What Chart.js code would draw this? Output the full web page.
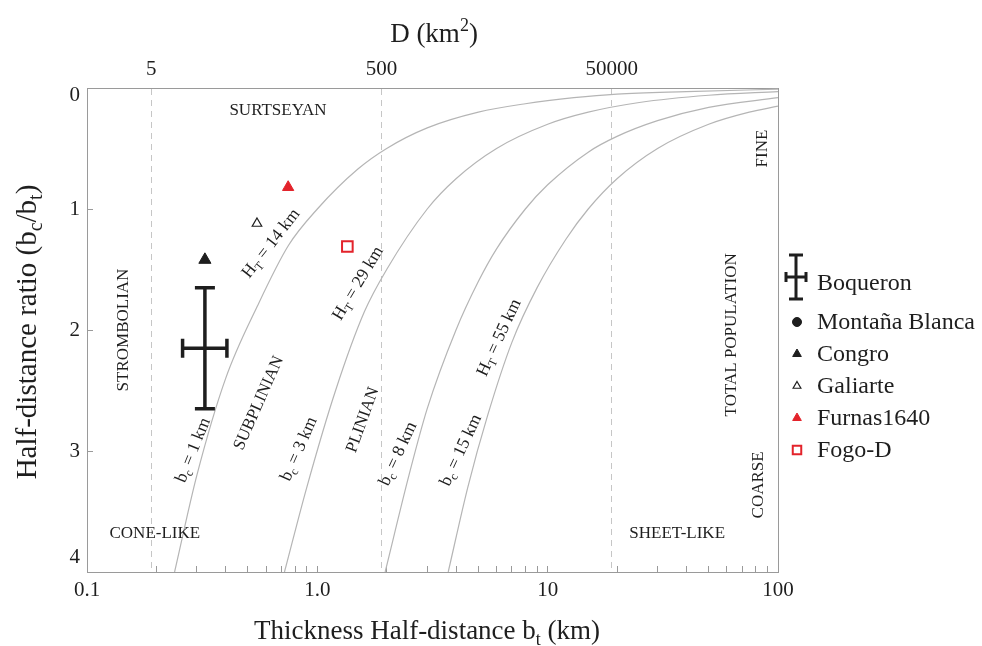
<!DOCTYPE html>
<html>
<head>
<meta charset="utf-8">
<title>Half-distance ratio vs thickness half-distance</title>
<script src="https://cdn.jsdelivr.net/npm/chart.js"></script>
<style>
  html, body { margin: 0; padding: 0; background: #fff; }
  #wrap { width: 982px; height: 646px; position: relative; }
</style>
</head>
<body>
<div id="wrap"><canvas id="grafico"></canvas></div>
<script>
// --- datos ---
// curvas de bc constante (bt en km, razon bc/bt)
const curve1Bt = [0.24, 0.3, 0.4, 0.55, 0.75, 1, 1.5, 2, 3, 5, 8, 13, 20, 40, 100];
const curve1Ratio = [4.0, 3.2, 2.4, 1.8, 1.3, 1.0, 0.67, 0.5, 0.33, 0.2, 0.13, 0.08, 0.05, 0.03, 0.01];
const curve2Bt = [0.72, 0.9, 1.2, 1.6, 2, 3, 4, 6, 10, 15, 25, 50, 100];
const curve2Ratio = [4.0, 3.3, 2.5, 1.85, 1.5, 1.0, 0.75, 0.5, 0.3, 0.2, 0.12, 0.06, 0.03];
const curve3Bt = [1.97, 2.5, 3, 4, 5, 6, 8, 10, 15, 20, 30, 50, 100];
const curve3Ratio = [4.0, 3.2, 2.65, 2.0, 1.6, 1.33, 1.0, 0.8, 0.53, 0.4, 0.27, 0.16, 0.08];
const curve4Bt = [3.7, 4.5, 5.5, 7, 9, 12, 15, 20, 30, 50, 75, 100];
const curve4Ratio = [4.0, 3.3, 2.7, 2.1, 1.65, 1.25, 1.0, 0.75, 0.5, 0.3, 0.2, 0.15];

// depositos
const depositNames = ['Boqueron', 'Montaña Blanca', 'Congro', 'Galiarte', 'Furnas1640', 'Fogo-D'];
const depositBt = [0.325, null, 0.325, 0.547, 0.747, 1.35];
const depositRatio = [2.15, null, 1.42, 1.12, 0.82, 1.31];
const boqueronBtRange = [0.26, 0.405];
const boqueronRatioRange = [1.65, 2.65];

// ejes
const bottomTickValues = [0.1, 1, 10, 100];
const bottomTickText = ['0.1', '1.0', '10', '100'];
const topTicksD = [5, 500, 50000];
const dLink = { bt: 0.19, D: 5 };   // D crece con bt^2
const yTickValues = [0, 1, 2, 3, 4];

const serif = '"Liberation Serif", "Times New Roman", serif';
const ink = '#1e1e1e';
const axisGrey = '#9a9a9a';
const red = '#e3232b';

Chart.defaults.font.family = serif;

// estilos de marcadores (grafico y leyenda)
const depositStyle = [
  { shape: 'errorbar' },
  { shape: 'circle', r: 7, fill: ink, stroke: ink, lw: 1, legendR: 4.5 },
  { shape: 'triangle', r: 7, fill: ink, stroke: ink, lw: 1, legendR: 5 },
  { shape: 'triangle', r: 5.5, fill: '#fff', stroke: ink, lw: 1.2, legendR: 4.5 },
  { shape: 'triangle', r: 6.5, fill: red, stroke: red, lw: 1, legendR: 5 },
  { shape: 'rect', r: 7.5, fill: '#fff', stroke: red, lw: 2, legendR: 6 }
];

function pts(xs, ys) {
  return xs.map((x, i) => ({ x: x, y: ys[i] }));
}

const datasets = [];
[[curve1Bt, curve1Ratio], [curve2Bt, curve2Ratio], [curve3Bt, curve3Ratio], [curve4Bt, curve4Ratio]].forEach((c, i) => {
  datasets.push({
    label: 'curve' + (i + 1),
    data: pts(c[0], c[1]),
    showLine: true,
    borderColor: '#b5b5b5',
    borderWidth: 1.2,
    pointRadius: 0,
    cubicInterpolationMode: 'monotone',
    fill: false
  });
});
depositNames.forEach((name, i) => {
  const st = depositStyle[i];
  const data = depositBt[i] === null ? [] : [{ x: depositBt[i], y: depositRatio[i] }];
  datasets.push({
    label: name,
    data: data,
    isDeposit: true,
    styleIdx: i,
    showLine: false,
    pointStyle: st.shape === 'errorbar' ? 'circle' : st.shape,
    pointRadius: st.shape === 'errorbar' ? 0 : st.r,
    backgroundColor: st.fill,
    borderColor: st.stroke,
    borderWidth: st.lw
  });
});

// rotulos dentro del grafico (posicion en coordenadas de datos)
const notes = [
  { text: 'SURTSEYAN', bt: 0.675, ratio: 0.18, angle: 0, size: 17 },
  { text: 'STROMBOLIAN', bt: 0.143, ratio: 2.0, angle: -90, size: 17 },
  { text: 'CONE-LIKE', bt: 0.197, ratio: 3.67, angle: 0, size: 17 },
  { text: 'SHEET-LIKE', bt: 36.5, ratio: 3.67, angle: 0, size: 17 },
  { text: 'FINE', bt: 85, ratio: 0.5, angle: -90, size: 17 },
  { text: 'TOTAL POPULATION', bt: 62, ratio: 2.04, angle: -90, size: 17 },
  { text: 'COARSE', bt: 81, ratio: 3.28, angle: -90, size: 17 },
  { text: 'SUBPLINIAN', bt: 0.552, ratio: 2.6, angle: -66, size: 17 },
  { text: 'PLINIAN', bt: 1.56, ratio: 2.74, angle: -70, size: 17 },
  { text: 'H_T = 14 km', bt: 0.625, ratio: 1.28, angle: -52, size: 17.5 },
  { text: 'H_T = 29 km', bt: 1.49, ratio: 1.61, angle: -59, size: 17.5 },
  { text: 'H_T = 55 km', bt: 6.1, ratio: 2.06, angle: -65, size: 17.5 },
  { text: 'b_c = 1 km', bt: 0.286, ratio: 2.99, angle: -68, size: 17.5 },
  { text: 'b_c = 3 km', bt: 0.824, ratio: 2.98, angle: -66, size: 17.5 },
  { text: 'b_c = 8 km', bt: 2.22, ratio: 3.02, angle: -65, size: 17.5 },
  { text: 'b_c = 15 km', bt: 4.16, ratio: 2.99, angle: -65, size: 17.5 }
];

// "_x" subindice, "^x" superindice
function richParts(str) {
  const parts = [];
  let buf = '';
  for (let i = 0; i < str.length; i++) {
    const ch = str[i];
    if ((ch === '_' || ch === '^') && i + 1 < str.length) {
      if (buf) { parts.push({ t: buf }); buf = ''; }
      parts.push({ t: str[i + 1], sub: ch === '_', sup: ch === '^' });
      i++;
    } else {
      buf += ch;
    }
  }
  if (buf) parts.push({ t: buf });
  return parts;
}

function drawRich(ctx, str, x, y, angle, size) {
  const parts = richParts(str);
  const big = size + 'px ' + serif;
  const small = Math.round(size * 0.68) + 'px ' + serif;
  let total = 0;
  parts.forEach(p => {
    ctx.font = (p.sub || p.sup) ? small : big;
    p.w = ctx.measureText(p.t).width;
    total += p.w;
  });
  ctx.save();
  ctx.translate(x, y);
  ctx.rotate(angle * Math.PI / 180);
  ctx.fillStyle = ink;
  ctx.textAlign = 'left';
  ctx.textBaseline = 'alphabetic';
  let cx = -total / 2;
  const base = size * 0.33;
  parts.forEach(p => {
    ctx.font = (p.sub || p.sup) ? small : big;
    let dy = 0;
    if (p.sub) dy = size * 0.22;
    if (p.sup) dy = -size * 0.4;
    ctx.fillText(p.t, cx, base + dy);
    cx += p.w;
  });
  ctx.restore();
}

function drawMarker(ctx, st, x, y, r) {
  ctx.save();
  ctx.beginPath();
  if (st.shape === 'circle') {
    ctx.arc(x, y, r, 0, Math.PI * 2);
  } else if (st.shape === 'triangle') {
    ctx.moveTo(x, y - r);
    ctx.lineTo(x + 0.866 * r, y + 0.5 * r);
    ctx.lineTo(x - 0.866 * r, y + 0.5 * r);
    ctx.closePath();
  } else if (st.shape === 'rect') {
    const h = Math.SQRT1_2 * r;
    ctx.rect(x - h, y - h, 2 * h, 2 * h);
  }
  ctx.fillStyle = st.fill;
  ctx.fill();
  ctx.lineWidth = st.lw;
  ctx.strokeStyle = st.stroke;
  ctx.stroke();
  ctx.restore();
}

function drawCross(ctx, cx, cy, top, bottom, left, right, capV, capH, lw) {
  ctx.save();
  ctx.strokeStyle = ink;
  ctx.lineWidth = lw;
  ctx.lineCap = 'butt';
  ctx.beginPath();
  ctx.moveTo(cx, top); ctx.lineTo(cx, bottom);
  ctx.moveTo(cx - capV, top); ctx.lineTo(cx + capV, top);
  ctx.moveTo(cx - capV, bottom); ctx.lineTo(cx + capV, bottom);
  ctx.moveTo(left, cy); ctx.lineTo(right, cy);
  ctx.moveTo(left, cy - capH); ctx.lineTo(left, cy + capH);
  ctx.moveTo(right, cy - capH); ctx.lineTo(right, cy + capH);
  ctx.stroke();
  ctx.restore();
}

const extras = {
  id: 'extras',
  afterDatasetsDraw(chart) {
    const ctx = chart.ctx;
    const xs = chart.scales.x, ys = chart.scales.y;
    // barras de error de Boqueron
    const i = depositNames.indexOf('Boqueron');
    drawCross(ctx,
      xs.getPixelForValue(depositBt[i]), ys.getPixelForValue(depositRatio[i]),
      ys.getPixelForValue(boqueronRatioRange[0]), ys.getPixelForValue(boqueronRatioRange[1]),
      xs.getPixelForValue(boqueronBtRange[0]), xs.getPixelForValue(boqueronBtRange[1]),
      10, 9.5, 3.5);
  },
  afterDraw(chart) {
    const ctx = chart.ctx;
    const a = chart.chartArea;
    const xs = chart.scales.x, ys = chart.scales.y;

    // borde derecho
    ctx.save();
    ctx.strokeStyle = axisGrey;
    ctx.lineWidth = 1;
    ctx.beginPath();
    ctx.moveTo(a.right + 0.5, a.top);
    ctx.lineTo(a.right + 0.5, a.bottom);
    ctx.stroke();
    ctx.restore();

    // etiquetas del eje y: las de los extremos quedan dentro del marco
    ctx.save();
    ctx.font = '21px ' + serif;
    ctx.fillStyle = ink;
    ctx.textAlign = 'right';
    ctx.textBaseline = 'middle';
    yTickValues.forEach(v => {
      let py = ys.getPixelForValue(v);
      py = Math.min(Math.max(py, a.top + 7), a.bottom - 15);
      ctx.fillText(String(v), a.left - 7, py);
    });
    ctx.restore();

    // rotulos
    notes.forEach(n => {
      drawRich(ctx, n.text, xs.getPixelForValue(n.bt), ys.getPixelForValue(n.ratio), n.angle, n.size);
    });

    // titulos de ejes
    drawRich(ctx, 'Thickness Half-distance b_t (km)', 427, 630, 0, 27);
    drawRich(ctx, 'Half-distance ratio (b_c/b_t)', 26, 332, -90, 29);
    drawRich(ctx, 'D (km^2)', 434, 33, 0, 27);

    // leyenda
    const mx = a.right + 19;
    const tx = a.right + 39;
    let ly = 322;
    chart.data.datasets.forEach(ds => {
      if (!ds.isDeposit) return;
      const st = depositStyle[ds.styleIdx];
      let rowY;
      if (st.shape === 'errorbar') {
        rowY = 283;
        drawCross(ctx, mx - 1, 277, 255, 299, mx - 11, mx + 9, 7, 5, 3);
      } else {
        rowY = ly;
        drawMarker(ctx, st, mx, rowY, st.legendR);
        ly += 32;
      }
      ctx.save();
      ctx.font = '24px ' + serif;
      ctx.fillStyle = ink;
      ctx.textAlign = 'left';
      ctx.textBaseline = 'middle';
      ctx.fillText(ds.label, tx, rowY + 1);
      ctx.restore();
    });
  }
};

const tickFont = { family: serif, size: 21 };
const bottomTicks = [];
[0.1, 1, 10].forEach(dec => {
  for (let k = 1; k < 10; k++) bottomTicks.push(+(dec * k).toPrecision(3));
});
bottomTicks.push(100);

const dMin = dLink.D * Math.pow(0.1 / dLink.bt, 2);
const dMax = dLink.D * Math.pow(100 / dLink.bt, 2);

new Chart(document.getElementById('grafico'), {
  type: 'scatter',
  data: { datasets: datasets },
  options: {
    responsive: true,
    maintainAspectRatio: false,
    animation: false,
    layout: { padding: { left: 0, right: 204, top: 0, bottom: 0 } },
    plugins: { legend: { display: false }, tooltip: { enabled: false } },
    scales: {
      x: {
        type: 'logarithmic',
        position: 'bottom',
        min: 0.1,
        max: 100,
        afterFit(s) { s.height = 74; },
        afterBuildTicks(s) { s.ticks = bottomTicks.map(v => ({ value: v })); },
        ticks: {
          autoSkip: false,
          maxRotation: 0,
          padding: 12,
          color: ink,
          font: tickFont,
          callback(v) {
            const k = bottomTickValues.findIndex(t => Math.abs(t - v) / t < 1e-6);
            return k >= 0 ? bottomTickText[k] : '';
          }
        },
        grid: { drawOnChartArea: false, tickLength: -6, color: axisGrey },
        border: { color: axisGrey }
      },
      x2: {
        type: 'logarithmic',
        axis: 'x',
        position: 'top',
        min: dMin,
        max: dMax,
        afterFit(s) { s.height = 88; },
        afterBuildTicks(s) { s.ticks = topTicksD.map(v => ({ value: v })); },
        ticks: {
          autoSkip: false,
          maxRotation: 0,
          padding: 6,
          color: ink,
          font: tickFont,
          callback(v) { return String(v); }
        },
        grid: { drawOnChartArea: true, drawTicks: false, color: '#c6c6c6', lineWidth: 1 },
        border: { color: axisGrey, dash: [6, 5] }
      },
      y: {
        type: 'linear',
        reverse: true,
        min: 0,
        max: 4,
        afterFit(s) { s.width = 87; },
        afterBuildTicks(s) { s.ticks = yTickValues.map(v => ({ value: v })); },
        ticks: { display: false },
        grid: { drawOnChartArea: false, tickLength: -6, color: axisGrey },
        border: { color: axisGrey }
      }
    }
  },
  plugins: [extras]
});
</script>
</body>
</html>
